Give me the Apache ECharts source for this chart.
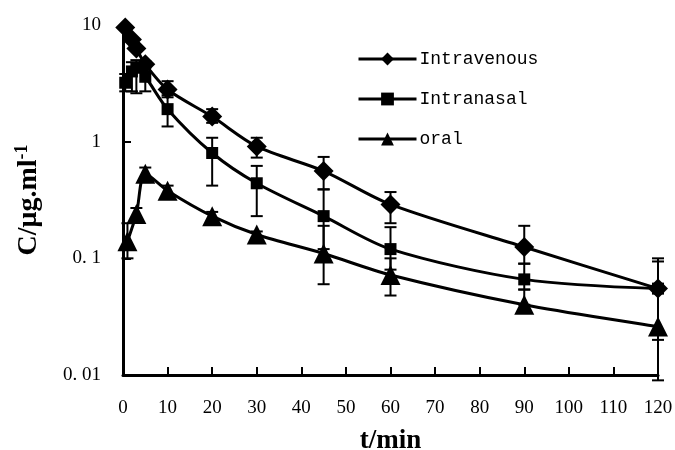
<!DOCTYPE html>
<html><head><meta charset="utf-8">
<script src="https://cdn.jsdelivr.net/npm/echarts@6/dist/echarts.min.js"></script>
<style>html,body{margin:0;padding:0;background:#fff}#c{width:675px;height:450px}</style>
</head><body><div id="c"></div>
<script>
var seriesNames = ['Intravenous', 'Intranasal', 'oral'];
var timesIV = [0.5, 2, 3, 5, 10, 20, 30, 45, 60, 90, 120];
var valuesIV = [9.5, 7.5, 6.3, 4.6, 2.8, 1.64, 0.91, 0.56, 0.29, 0.125, 0.055];
var errLowIV = [9.5, 7.5, 6.3, 4.3, 2.5, 1.45, 0.73, 0.39, 0.2, 0.09, 0.055];
var errHighIV = [9.5, 7.5, 6.3, 4.9, 3.3, 1.9, 1.08, 0.74, 0.37, 0.19, 0.1];
var timesIN = [0.5, 2, 3, 5, 10, 20, 30, 45, 60, 90, 120];
var valuesIN = [3.2, 4.0, 4.3, 3.6, 1.9, 0.8, 0.44, 0.23, 0.12, 0.066, 0.055];
var errLowIN = [2.7, 2.7, 2.6, 2.7, 1.35, 0.42, 0.23, 0.12, 0.08, 0.054, 0.02];
var errHighIN = [3.8, 4.8, 5.0, 4.6, 2.4, 1.08, 0.62, 0.39, 0.185, 0.09, 0.094];
var timesOR = [1, 3, 5, 10, 20, 30, 45, 60, 90, 120];
var valuesOR = [0.14, 0.24, 0.53, 0.38, 0.23, 0.16, 0.11, 0.072, 0.04, 0.026];
var errLowOR = [0.1, 0.22, 0.45, 0.34, 0.21, 0.15, 0.06, 0.048, 0.04, 0.009];
var errHighOR = [0.2, 0.27, 0.6, 0.42, 0.25, 0.17, 0.19, 0.1, 0.054, 0.06];
var xTickValues = [0, 10, 20, 30, 40, 50, 60, 70, 80, 90, 100, 110, 120];
var yTickValues = [0.01, 0.1, 1, 10];
var yTickLabels = ['0. 01', '0. 1', '1', '10'];

function pairs(t, v) { return t.map(function (x, i) { return [x, v[i]]; }); }
function errs(t, lo, hi) { return t.map(function (x, i) { return [x, lo[i], hi[i]]; }); }

function errRender(params, api) {
  var x = api.value(0);
  var p1 = api.coord([x, api.value(1)]);
  var p2 = api.coord([x, api.value(2)]);
  var cap = 6;
  var st = { stroke: '#000', lineWidth: 2 };
  return { type: 'group', children: [
    { type: 'line', shape: { x1: p1[0], y1: p1[1], x2: p2[0], y2: p2[1] }, style: st },
    { type: 'line', shape: { x1: p1[0] - cap, y1: p1[1], x2: p1[0] + cap, y2: p1[1] }, style: st },
    { type: 'line', shape: { x1: p2[0] - cap, y1: p2[1], x2: p2[0] + cap, y2: p2[1] }, style: st }
  ]};
}

var lineCommon = { type: 'line', smooth: 0.3, z: 3, lineStyle: { color: '#000', width: 3 },
  itemStyle: { color: '#000', borderWidth: 0 } };

var chart = echarts.init(document.getElementById('c'), null, { renderer: 'canvas' });
chart.setOption({
  animation: false,
  backgroundColor: '#fff',
  grid: { left: 123, right: 17, top: 25, bottom: 75, containLabel: false, outerBoundsMode: 'none' },
  legend: {
    data: seriesNames.map(function (n) { return { name: n }; }),
    orient: 'vertical', left: 352, top: 45, itemWidth: 58, itemHeight: 16, itemGap: 22,
    lineStyle: { width: 3, color: '#000' },
    textStyle: { fontFamily: 'Liberation Mono', fontSize: 18, color: '#000', padding: [0, 0, 0, -2] }
  },
  xAxis: {
    type: 'value', min: 0, max: 120, interval: 10,
    name: 't/min', nameLocation: 'middle', nameGap: 53,
    nameTextStyle: { fontFamily: 'Liberation Serif', fontWeight: 'bold', fontSize: 27, color: '#000' },
    axisLine: { onZero: false, lineStyle: { color: '#000', width: 3 } },
    axisTick: { inside: true, length: 8, lineStyle: { color: '#000', width: 2 } },
    axisLabel: { margin: 24, fontFamily: 'Liberation Serif', fontSize: 19, color: '#000',
      formatter: function (v) { return xTickValues.indexOf(v) >= 0 ? String(v) : ''; } },
    splitLine: { show: false }
  },
  yAxis: {
    type: 'log', logBase: 10, min: 0.01, max: 10,
    name: '{b|C/μg.ml}{s|-1}', nameLocation: 'middle', nameGap: 78, nameRotate: 90,
    nameTextStyle: { rich: {
      b: { fontFamily: 'Liberation Serif', fontWeight: 'bold', fontSize: 28, color: '#000' },
      s: { fontFamily: 'Liberation Serif', fontWeight: 'bold', fontSize: 18, color: '#000', verticalAlign: 'top', padding: [0, 0, 14, 0] }
    } },
    axisLine: { show: true, lineStyle: { color: '#000', width: 3 } },
    axisTick: { inside: true, length: 8, lineStyle: { color: '#000', width: 2 } },
    minorTick: { show: false },
    axisLabel: { margin: 22, fontFamily: 'Liberation Serif', fontSize: 19, color: '#000',
      formatter: function (v) {
        for (var i = 0; i < yTickValues.length; i++) if (Math.abs(Math.log10(v) - Math.log10(yTickValues[i])) < 1e-6) return yTickLabels[i];
        return '';
      } },
    splitLine: { show: false }
  },
  series: [
    { type: 'custom', renderItem: errRender, data: errs(timesIV, errLowIV, errHighIV), z: 2, clip: false, silent: true },
    { type: 'custom', renderItem: errRender, data: errs(timesIN, errLowIN, errHighIN), z: 2, clip: false, silent: true },
    { type: 'custom', renderItem: errRender, data: errs(timesOR, errLowOR, errHighOR), z: 2, clip: false, silent: true },
    Object.assign({}, lineCommon, { name: seriesNames[0], data: pairs(timesIV, valuesIV), symbol: 'diamond', symbolSize: 20 }),
    Object.assign({}, lineCommon, { name: seriesNames[1], data: pairs(timesIN, valuesIN), symbol: 'rect', symbolSize: 12 }),
    Object.assign({}, lineCommon, { name: seriesNames[2], data: pairs(timesOR, valuesOR), symbol: 'triangle', symbolSize: 20 })
  ]
});
</script></body></html>
